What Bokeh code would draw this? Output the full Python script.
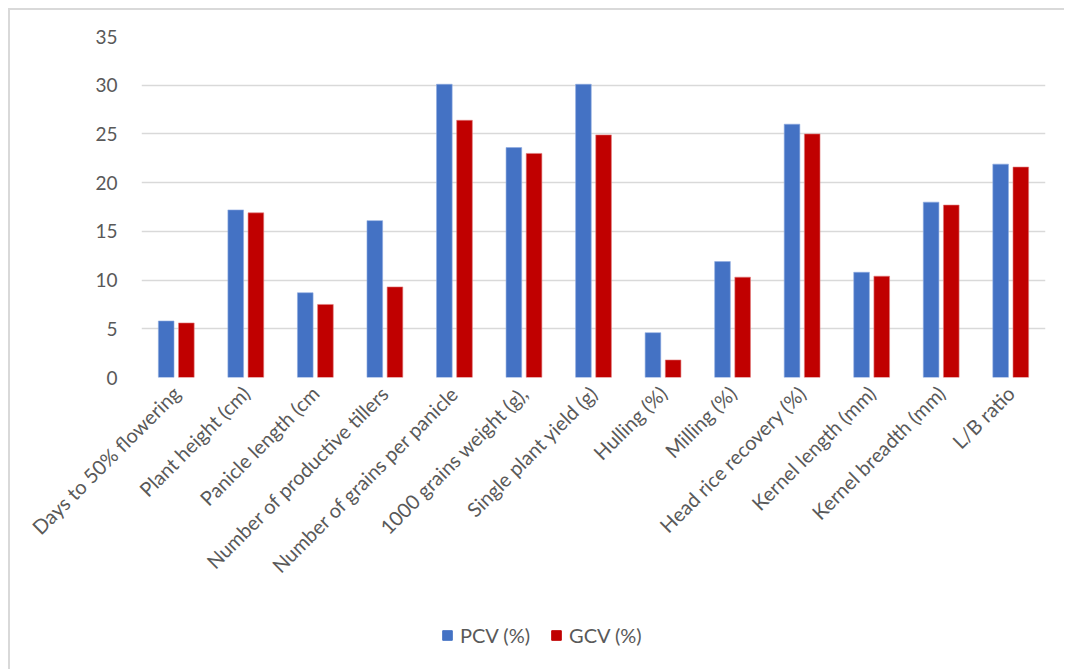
import math
from bokeh.plotting import figure
from bokeh.layouts import column
from bokeh.models import (ColumnDataSource, FactorRange, Legend, LegendItem,
                          SingleIntervalTicker, Range1d)
from bokeh.transform import dodge
from bokeh.embed import file_html
from bokeh.resources import INLINE

categories = ["Days to 50% flowering", "Plant height (cm)", "Panicle length (cm",
              "Number of productive tillers", "Number of grains per panicle",
              "1000 grains weight (g),", "Single plant yield (g)", "Hulling (%)",
              "Milling (%)", "Head rice recovery (%)", "Kernel length (mm)",
              "Kernel breadth (mm)", "L/B ratio"]
pcv = [5.8, 17.2, 8.7, 16.1, 30.1, 23.6, 30.1, 4.6, 11.9, 26.0, 10.8, 18.0, 21.9]
gcv = [5.6, 16.9, 7.5, 9.3, 26.4, 23.0, 24.9, 1.8, 10.3, 25.0, 10.4, 17.7, 21.6]
series_names = ["PCV (%)", "GCV (%)"]
colors = ["#4472C4", "#C00000"]

FONT = "Lato"
TXT = "#595959"
GRID = "#d9d9d9"
BORDER = "2px solid #d9d9d9"

src = ColumnDataSource(dict(cat=categories, pcv=pcv, gcv=gcv))

p = figure(width=1056, height=610, x_range=FactorRange(*categories, range_padding=0),
           y_range=(0, 35), output_backend="svg", toolbar_location=None,
           min_border_left=131, min_border_right=21, min_border_top=26,
           min_border_bottom=243)
p.margin = (8, 0, 0, 8)
p.styles = {"border-top": BORDER, "border-left": BORDER}
p.outline_line_color = None
p.background_fill_color = "white"
p.border_fill_color = "white"

p.vbar(x=dodge("cat", -0.145, range=p.x_range), top="pcv", width=0.225,
       source=src, fill_color=colors[0], line_color="#8fabe0", line_width=0.6)
p.vbar(x=dodge("cat", 0.145, range=p.x_range), top="gcv", width=0.225,
       source=src, fill_color=colors[1], line_color="#e07c7c", line_width=0.6)

p.yaxis.ticker = SingleIntervalTicker(interval=5)
p.ygrid.grid_line_color = GRID
p.ygrid.grid_line_width = 1.5
p.xgrid.grid_line_color = None
for ax in (p.xaxis[0], p.yaxis[0]):
    ax.axis_line_color = None
    ax.major_tick_line_color = None
    ax.minor_tick_line_color = None
    ax.major_tick_out = 0
    ax.major_tick_in = 0
    ax.major_label_text_font = FONT
    ax.major_label_text_color = TXT
p.yaxis.major_label_text_font_size = "19px"
p.xaxis.major_label_text_font_size = "20px"
p.yaxis.major_label_standoff = 20
p.xaxis.major_label_orientation = math.pi / 4
p.xaxis.major_label_standoff = 12

# legend strip below the chart
p2 = figure(width=1056, height=51, output_backend="svg", toolbar_location=None,
            x_axis_type=None, y_axis_type=None, min_border=0,
            x_range=Range1d(0, 1), y_range=Range1d(0, 1))
p2.margin = (0, 0, 0, 8)
p2.styles = {"border-left": BORDER}
p2.outline_line_color = None
p2.grid.visible = False
p2.background_fill_color = "white"
p2.border_fill_color = "white"
l1 = p2.vbar(x=[0.5], top=[1], width=0.1, fill_color=colors[0], line_color=colors[0])
l2 = p2.vbar(x=[0.5], top=[1], width=0.1, fill_color=colors[1], line_color=colors[1])
l1.visible = False
l2.visible = False
legend = Legend(items=[LegendItem(label=series_names[0], renderers=[l1]),
                       LegendItem(label=series_names[1], renderers=[l2])],
                orientation="horizontal", location=(300, 22),
                label_text_font=FONT, label_text_color=TXT,
                label_text_font_size="20px", glyph_width=12, glyph_height=12,
                label_standoff=7, spacing=20, padding=0, margin=0,
                border_line_color=None, background_fill_alpha=0)
p2.add_layout(legend, "center")

layout = column(p, p2, spacing=0)
open("out.html", "w").write(file_html(layout, INLINE))
